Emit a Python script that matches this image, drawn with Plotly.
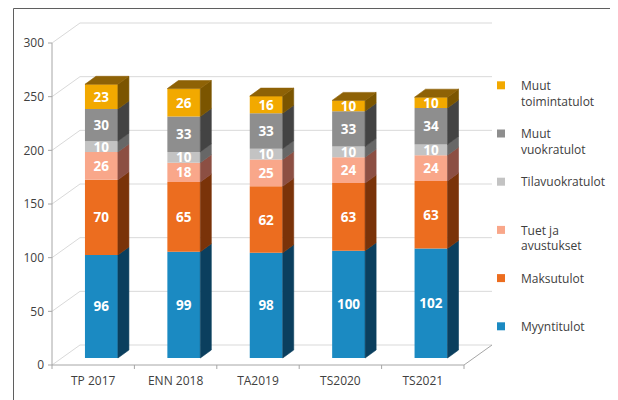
import plotly.graph_objects as go

# ---------------- data ----------------
categories = ["TP 2017", "ENN 2018", "TA2019", "TS2020", "TS2021"]
myyntitulot = [96, 99, 98, 100, 102]
maksutulot = [70, 65, 62, 63, 63]
tuet_ja_avustukset = [26, 18, 25, 24, 24]
tilavuokratulot = [10, 10, 10, 10, 10]
muut_vuokratulot = [30, 33, 33, 33, 34]
muut_toimintatulot = [23, 26, 16, 10, 10]
y_tick_values = [0, 50, 100, 150, 200, 250, 300]

series_names = ["Myyntitulot", "Maksutulot", "Tuet ja<br>avustukset", "Tilavuokratulot",
                "Muut<br>vuokratulot", "Muut<br>toimintatulot"]
series_values = [myyntitulot, maksutulot, tuet_ja_avustukset, tilavuokratulot,
                 muut_vuokratulot, muut_toimintatulot]
front_colors = ["#1B8AC2", "#EC6D1F", "#F9A78A", "#C3C3C3", "#8E8E8E", "#F2A900"]
side_colors = ["#0B3F5E", "#7A3309", "#8C4F43", "#676767", "#434343", "#7B5500"]
top_color = "#8E6206"

# ---------------- geometry ----------------
# page body has an 8px margin, so the figure is laid out 8px smaller and shifted
PAGE = 8
W, H = 618 - PAGE, 400 - PAGE
L, R, T, B = 45 - PAGE, 495 - PAGE, 20 - PAGE, 372 - PAGE
AX_X0, AX_Y0 = 52 - PAGE, 365 - PAGE   # pixel of axis origin (front plane)
PXX = 82.4                              # px per category
PXY = 322 / 300                         # px per value unit
x_range = [-0.5 - (AX_X0 - L) / PXX, -0.5 + (R - AX_X0) / PXX]
y_range = [-(B - AX_Y0) / PXY, (AX_Y0 - T) / PXY]

WDX, WDY = 28 / PXX, 20 / PXY   # wall depth
SDX, SDY = 11 / PXX, 8 / PXY    # bar side depth
LIFT = 7 / PXY                  # bar front plane lift
BAR_OFF, BAR_W = -0.1, 0.4
n = len(categories)
xs = list(range(n))
x_left_edge, x_right_edge = -0.5, n - 0.5

fig = go.Figure()

# ---------------- bars (front faces) ----------------
cum = [0.0] * n
bases_all, tops_all = [], []
for k, (name, vals) in enumerate(zip(series_names, series_values)):
    base = [c + LIFT for c in cum]
    fig.add_trace(go.Bar(
        x=xs, y=vals, base=base, width=BAR_W, offset=BAR_OFF,
        marker=dict(color=front_colors[k], line=dict(width=0)),
        text=[str(v) for v in vals], textposition="inside", insidetextanchor="middle",
        constraintext="none", textangle=0,
        textfont=dict(color="white", size=13.5, family="Open Sans", weight="bold"),
        showlegend=False, hoverinfo="skip", name=name.replace("<br>", " "),
    ))
    bases_all.append(base)
    cum = [c + v for c, v in zip(cum, vals)]
    tops_all.append([c + LIFT for c in cum])

# ---------------- side faces ----------------
for k in range(len(series_values)):
    px, py = [], []
    for i in range(n):
        xr = xs[i] + BAR_OFF + BAR_W
        b, t = bases_all[k][i], tops_all[k][i]
        px += [xr, xr + SDX, xr + SDX, xr, xr, None]
        py += [b, b + SDY, t + SDY, t, b, None]
    fig.add_trace(go.Scatter(x=px, y=py, mode="lines", fill="toself",
                             fillcolor=side_colors[k],
                             line=dict(color=side_colors[k], width=0.6),
                             showlegend=False, hoverinfo="skip"))

# top faces
px, py = [], []
for i in range(n):
    xl = xs[i] + BAR_OFF
    xr = xl + BAR_W
    t = tops_all[-1][i]
    px += [xl, xr, xr + SDX, xl + SDX, xl, None]
    py += [t, t, t + SDY, t + SDY, t, None]
fig.add_trace(go.Scatter(x=px, y=py, mode="lines", fill="toself", fillcolor=top_color,
                         line=dict(color=top_color, width=0.6),
                         showlegend=False, hoverinfo="skip"))

# ---------------- legend entries (top series first) ----------------
legend_texts = {"Tilavuokratulot": "Tilavuokratulot<br>\u00a0",
                "Maksutulot": "Maksutulot<br>\u00a0",
                "Myyntitulot": "Myyntitulot<br>\u00a0"}
for k in reversed(range(len(series_names))):
    name = series_names[k]
    fig.add_trace(go.Scatter(
        x=[None], y=[None], mode="markers",
        marker=dict(symbol="square", size=8, color=front_colors[k]),
        name=legend_texts.get(name, name), legendgroup="g%d" % k, showlegend=True,
    ))

# ---------------- walls, floor, axes as shapes ----------------
shapes = []
grid_c = "#D9D9D9"
axis_c = "#A6A6A6"
for v in y_tick_values:
    shapes.append(dict(type="line", layer="below", xref="x", yref="y",
                       x0=x_left_edge, y0=v, x1=x_left_edge + WDX, y1=v + WDY,
                       line=dict(color=grid_c, width=1)))
    shapes.append(dict(type="line", layer="below", xref="x", yref="y",
                       x0=x_left_edge + WDX, y0=v + WDY, x1=x_right_edge + WDX, y1=v + WDY,
                       line=dict(color=grid_c, width=1)))
    shapes.append(dict(type="line", layer="below", xref="x", yref="y",
                       x0=x_left_edge - 4 / PXX, y0=v, x1=x_left_edge, y1=v,
                       line=dict(color=axis_c, width=1)))
shapes.append(dict(type="line", layer="below", xref="x", yref="y",
                   x0=x_left_edge, y0=0, x1=x_right_edge, y1=0, line=dict(color=axis_c, width=1)))
shapes.append(dict(type="line", layer="below", xref="x", yref="y",
                   x0=x_right_edge, y0=0, x1=x_right_edge + WDX, y1=WDY, line=dict(color=axis_c, width=1)))
shapes.append(dict(type="line", layer="below", xref="x", yref="y",
                   x0=x_left_edge, y0=0, x1=x_left_edge, y1=max(y_tick_values),
                   line=dict(color=axis_c, width=1)))
for i in range(n + 1):
    xb = i - 0.5
    shapes.append(dict(type="line", layer="below", xref="x", yref="y",
                       x0=xb, y0=0, x1=xb, y1=-4 / PXY, line=dict(color=axis_c, width=1)))
pw, ph = R - L, B - T
shapes.append(dict(type="rect", xref="paper", yref="paper",
                   x0=(13.5 - PAGE - L) / pw, x1=(615.5 - PAGE - L) / pw,
                   y0=(B - 430) / ph, y1=(B - 0.5) / ph,
                   line=dict(color="#5F5F5F", width=1), fillcolor="rgba(0,0,0,0)"))

fig.update_layout(
    width=W, height=H,
    margin=dict(l=L, r=W - R, t=T, b=H - B, autoexpand=False),
    paper_bgcolor="white", plot_bgcolor="white",
    barmode="overlay",
    font=dict(family="Open Sans", size=12, color="#404040"),
    shapes=shapes,
    showlegend=True,
    legend=dict(x=(481 - PAGE - L) / pw, y=(B - (71 - PAGE)) / ph, xanchor="left", yanchor="top",
                traceorder="grouped", tracegroupgap=14, valign="top",
                font=dict(size=12, color="#404040"), bgcolor="rgba(0,0,0,0)"),
    xaxis=dict(range=x_range, tickvals=xs, ticktext=categories, ticks="",
               showgrid=False, zeroline=False, showline=False, fixedrange=True,
               automargin=False),
    yaxis=dict(range=y_range, tickvals=y_tick_values, ticks="", showgrid=False,
               zeroline=False, showline=False, fixedrange=True, automargin=False),
)

fig.write_html("out.html")
